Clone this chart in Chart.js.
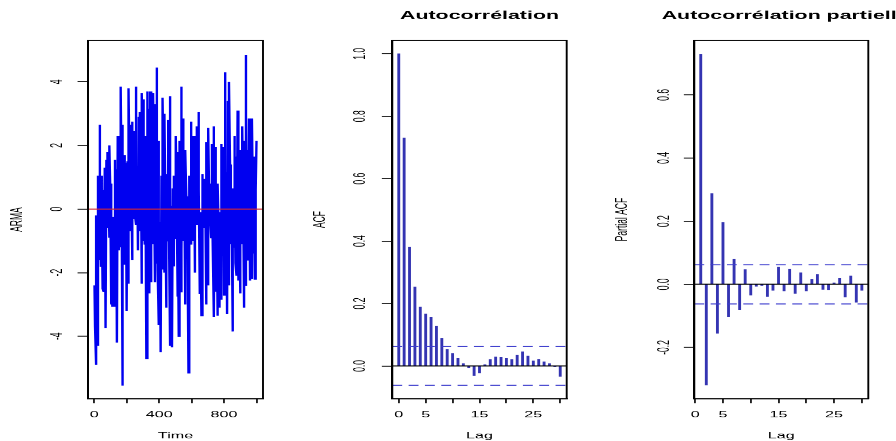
<!DOCTYPE html>
<html><head><meta charset="utf-8">
<script src="https://cdn.jsdelivr.net/npm/chart.js@4.4.1/dist/chart.umd.min.js"></script>
<style>
html,body{margin:0;padding:0;background:#fff;overflow:hidden;}
#wrap{position:relative;width:896px;height:441px;overflow:hidden;}
#wrap canvas{position:absolute;left:0;top:0;}
</style></head><body>
<div id="wrap">
<canvas id="c1" width="472" height="441" style="width:896px;height:441px"></canvas>
<canvas id="c2" width="472" height="441" style="width:896px;height:441px"></canvas>
<canvas id="c3" width="472" height="441" style="width:896px;height:441px"></canvas>
</div>
<script>
// ---------------- data ----------------
const armaValues = [
-2.4,-3.7,-1.2,-4.9,-0.2,-2.0,-4.3,1.05,-0.6,-1.6,2.65,0.4,-1.8,1.05,-0.3,-2.5,-0.3,0.6,-2.6,1.3,
0.2,-3.75,1.55,-0.4,-0.6,1.8,0.5,-0.9,2.0,0.8,-3.0,0.3,-1.0,-3.05,-0.25,-1.2,-3.05,1.55,0.2,-2.95,
1.25,0.3,-4.2,2.3,0.9,-1.3,0.1,-0.8,-1.2,3.85,1.0,-5.55,2.65,0.7,-0.25,1.7,0.2,-1.75,1.45,0.5,
-3.2,1.5,-0.2,-2.35,3.8,1.2,-0.7,2.65,0.9,-1.6,2.75,1.1,-0.3,2.45,0.8,-0.2,3.85,1.4,-0.5,1.35,
0.3,-1.3,2.9,1.0,-0.7,3.05,1.2,-2.35,3.65,1.5,-1.0,3.45,0.9,-1.1,2.3,0.4,-4.7,3.7,1.3,-1.1,
3.15,0.8,-2.65,3.7,1.6,-2.3,2.1,0.5,-1.1,3.65,1.1,-2.3,3.3,0.9,-1.7,4.45,1.8,-1.95,2.15,0.3,
-3.65,-0.4,-1.5,-4.5,1.05,0.2,-1.9,3.5,1.2,-2.0,3.0,0.6,-3.1,1.1,0.1,-1.0,2.8,1.0,-0.95,3.55,
0.7,-4.3,0.1,-1.2,-4.35,0.65,-0.5,-1.8,1.05,0.2,-0.95,2.3,0.5,-2.75,1.8,0.3,-4.0,2.15,0.6,-2.6,
3.85,1.3,-1.3,2.85,0.8,-1.0,1.3,0.1,-3.0,1.85,0.4,-1.2,0.4,-0.6,-5.15,1.05,0.1,-1.1,2.75,0.9,
-0.8,2.3,0.5,-1.0,2.3,0.7,-2.0,2.3,0.4,-0.5,2.6,1.0,-0.1,3.05,0.6,-2.65,-0.1,-1.2,-3.35,1.1,
0.2,-0.35,0.95,0.1,-0.6,0.65,-0.4,-3.0,2.1,0.5,-2.4,2.55,0.8,-0.4,0.6,-0.2,-0.9,2.05,0.4,-1.2,
2.6,0.9,-3.4,1.95,0.3,-2.6,0.05,-1.0,-3.35,0.8,-0.6,-3.1,-0.1,-1.3,-2.85,2.05,0.5,-0.7,1.95,0.6,
-2.7,4.3,1.2,-1.3,1.15,0.2,-3.3,3.4,0.9,-2.4,4.0,1.4,-1.1,0.7,-0.3,-3.85,0.65,-0.4,-1.2,2.3,
0.8,-1.7,1.65,0.3,-2.1,3.1,0.9,-2.25,-0.1,-1.0,-2.65,1.85,0.4,-1.1,2.6,0.8,-3.1,2.15,0.6,-2.4,
4.85,1.5,-1.6,1.85,0.3,-0.3,2.85,0.9,-2.25,1.85,0.2,-2.2,2.85,0.7,-1.4,1.65,0.4,-2.2,1.65,0.6,2.15
];
const acfLags = [0,1,2,3,4,5,6,7,8,9,10,11,12,13,14,15,16,17,18,19,20,21,22,23,24,25,26,27,28,29,30];
const acfValues = [1.0,0.73,0.38,0.253,0.189,0.166,0.155,0.127,0.088,0.053,0.040,0.025,0.0075,-0.005,-0.03,-0.022,0.004,0.02,0.029,0.027,0.025,0.02,0.034,0.045,0.032,0.016,0.021,0.013,0.0075,-0.003,-0.033];
const pacfLags = [1,2,3,4,5,6,7,8,9,10,11,12,13,14,15,16,17,18,19,20,21,22,23,24,25,26,27,28,29,30];
const pacfValues = [0.728,-0.319,0.287,-0.155,0.196,-0.103,0.079,-0.08,0.046,-0.034,-0.006,-0.004,-0.038,-0.019,0.054,-0.021,0.048,-0.029,0.036,-0.021,0.015,0.031,-0.016,-0.017,0.004,0.018,-0.04,0.026,-0.057,-0.019];
const confLimit = 0.062;

const timeTicks = [0,200,400,600,800,1000];
const timeTickLabels = ['0','','400','','800',''];
const armaTicks = [-4,-2,0,2,4];
const armaTickLabels = ['-4','-2','0','2','4'];
const lagTicks = [0,5,10,15,20,25,30];
const lagTickLabels = ['0','5','','15','','25',''];
const acfTicks = [0,0.2,0.4,0.6,0.8,1.0];
const acfTickLabels = ['0.0','0.2','0.4','0.6','0.8','1.0'];
const pacfTicks = [-0.2,0,0.2,0.4,0.6];
const pacfTickLabels = ['-0.2','0.0','0.2','0.4','0.6'];

// ---------------- layout / style ----------------
const STRETCH = 896/472 + 1e-7;
const FONT = '"Liberation Sans", Arial, Helvetica, sans-serif';
Chart.defaults.font.family = FONT;
Chart.defaults.font.size = 8.5;
Chart.defaults.color = '#000';
const SPIKE = 'rgb(52,52,178)';
const CI = 'rgb(60,60,205)';
const CI_DASH = [5.2, 3.4];
const Y_AXIS_W = 44;
const X_AXIS_H = 42.5;

const rPlugin = {
  id: 'rbox',
  afterDraw(chart, args, opts) {
    const {ctx, chartArea: a} = chart;
    ctx.save();
    ctx.strokeStyle = '#000';
    ctx.lineWidth = 1;
    ctx.strokeRect(a.left, a.top, a.right - a.left, a.bottom - a.top);
    if (opts.text) {
      ctx.font = 'bold 11.25px ' + FONT;
      ctx.fillStyle = '#000';
      ctx.textAlign = 'center';
      ctx.textBaseline = 'middle';
      ctx.fillText(opts.text, (a.left + a.right) / 2 + (opts.dx || 0), 16);
    }
    ctx.restore();
  }
};

function xScale(min, max, ticks, labels, title) {
  return {
    type: 'linear', min, max, offset: false,
    afterBuildTicks: s => { s.ticks = ticks.map(v => ({value: v})); },
    afterFit: s => { s.height = X_AXIS_H; },
    ticks: {autoSkip: false, maxRotation: 0, minRotation: 0, padding: 6.8, color: '#000',
            callback: (v, i) => labels[i]},
    grid: {drawOnChartArea: false, drawTicks: true, tickLength: 4.6, tickColor: '#222', offset: false},
    border: {display: true, color: '#000', width: 1},
    title: {display: true, text: title, color: '#000', padding: {top: 0, bottom: 0.2}}
  };
}
function yScale(min, max, ticks, labels, title, labPad, titlePad) {
  return {
    type: 'linear', min, max,
    afterBuildTicks: s => { s.ticks = ticks.map(v => ({value: v})); },
    afterFit: s => { s.width = Y_AXIS_W; },
    ticks: {autoSkip: false, minRotation: 90, maxRotation: 90, crossAlign: 'center', padding: labPad,
            color: '#000', callback: (v, i) => labels[i]},
    grid: {drawOnChartArea: false, drawTicks: true, tickLength: 5.5, tickColor: '#222'},
    border: {display: true, color: '#000', width: 1},
    title: {display: true, text: title, color: '#000', padding: {top: titlePad, bottom: 0}}
  };
}
function baseOpts(padL, padR, scales, titleText, dx) {
  return {
    responsive: false, animation: false, devicePixelRatio: STRETCH, events: [],
    layout: {padding: {left: padL, right: padR, top: 40.5, bottom: 0}},
    plugins: {legend: {display: false}, tooltip: {enabled: false}, rbox: {text: titleText, dx: dx || 0}},
    scales
  };
}

// ---------------- panel 1 : series ----------------
const armaTime = armaValues.map((v, i) => 1 + i * 999 / (armaValues.length - 1));
new Chart(document.getElementById('c1'), {
  type: 'line',
  data: {datasets: [
    {data: [{x: -39, y: 0}, {x: 1040, y: 0}], borderColor: 'rgb(215,40,50)', borderWidth: 1, pointRadius: 0, order: 0},
    {data: armaValues.map((v, i) => ({x: armaTime[i], y: v})), borderColor: '#0000f0', borderWidth: 1.25,
     pointRadius: 0, tension: 0, order: 1}
  ]},
  options: baseOpts(2.36, 333.46, {
    x: xScale(-39, 1040, timeTicks, timeTickLabels, 'Time'),
    y: yScale(-5.96, 5.3, armaTicks, armaTickLabels, 'ARMA', 6.8, 1.8)
  }, null),
  plugins: [rPlugin]
});

// ---------------- panel 2 : ACF ----------------
function hline(x0, x1, y, color, dash) {
  return {type: 'line', data: [{x: x0, y}, {x: x1, y}], borderColor: color, borderWidth: 1,
          borderDash: dash || [], pointRadius: 0, order: 0};
}
new Chart(document.getElementById('c2'), {
  type: 'bar',
  data: {datasets: [
    {type: 'bar', data: acfLags.map((l, i) => ({x: l, y: acfValues[i]})), backgroundColor: SPIKE,
     borderWidth: 0, barThickness: 0.85, order: 2},
    hline(-1.2, 31.2, 0, '#000'),
    hline(-1.2, 31.2, confLimit, CI, CI_DASH),
    hline(-1.2, 31.2, -confLimit, CI, CI_DASH)
  ]},
  options: baseOpts(162.66, 173.47, {
    x: xScale(-1.2, 31.2, lagTicks, lagTickLabels, 'Lag'),
    y: yScale(-0.1045, 1.0425, acfTicks, acfTickLabels, 'ACF', 5.1, 1.0)
  }, 'Autocorrélation'),
  plugins: [rPlugin]
});

// ---------------- panel 3 : PACF ----------------
new Chart(document.getElementById('c3'), {
  type: 'bar',
  data: {datasets: [
    {type: 'bar', data: pacfLags.map((l, i) => ({x: l, y: pacfValues[i]})), backgroundColor: SPIKE,
     borderWidth: 0, barThickness: 0.85, order: 2},
    hline(-0.16, 31.16, 0, '#000'),
    hline(-0.16, 31.16, confLimit, CI, CI_DASH),
    hline(-0.16, 31.16, -confLimit, CI, CI_DASH)
  ]},
  options: baseOpts(321.75, 14.59, {
    x: xScale(-0.16, 31.16, lagTicks, lagTickLabels, 'Lag'),
    y: yScale(-0.362, 0.772, pacfTicks, pacfTickLabels, 'Partial ACF', 2.6, 1.0)
  }, 'Autocorrélation partielle', 2),
  plugins: [rPlugin]
});
document.querySelectorAll('#wrap canvas').forEach(c => { c.style.width = '896px'; c.style.height = '441px'; });
</script>
</body></html>
